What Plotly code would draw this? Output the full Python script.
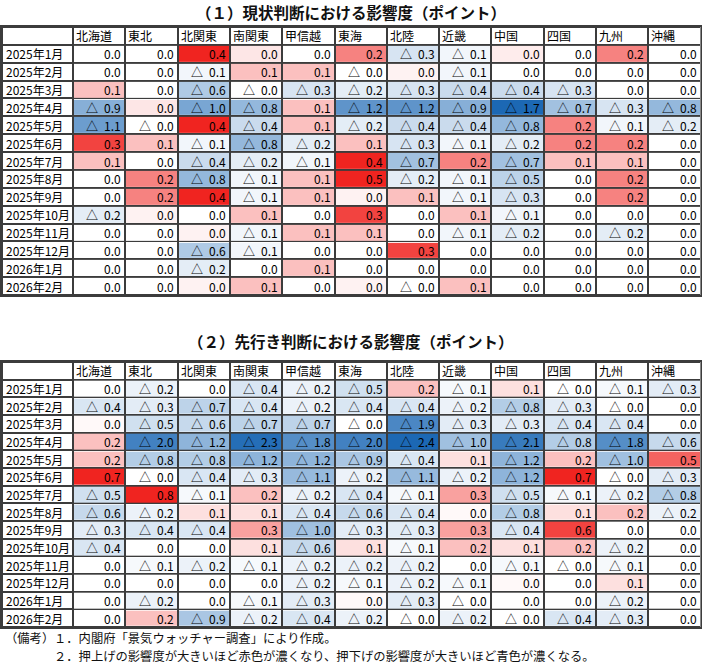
import math
import plotly.graph_objects as go

regions = ["北海道", "東北", "北関東", "南関東", "甲信越", "東海",
           "北陸", "近畿", "中国", "四国", "九州", "沖縄"]
months = ["2025年1月", "2025年2月", "2025年3月", "2025年4月", "2025年5月",
          "2025年6月", "2025年7月", "2025年8月", "2025年9月", "2025年10月",
          "2025年11月", "2025年12月", "2026年1月", "2026年2月"]

# (1) 現状判断  rows = months, cols = regions  (-0.0 shows as "△ 0.0")
current_impact = [
    [0.0, 0.0, 0.4, 0.04, 0.0, 0.2, -0.3, -0.1, 0.03, 0.0, 0.2, 0.0],
    [0.0, 0.0, -0.1, 0.1, 0.1, -0.0, 0.02, -0.1, 0.0, 0.0, 0.0, 0.0],
    [0.1, 0.0, -0.6, -0.0, -0.3, -0.2, -0.3, -0.4, -0.4, -0.3, 0.0, 0.0],
    [-0.9, 0.04, -1.0, -0.8, 0.1, -1.2, -1.2, -0.9, -1.7, -0.7, -0.3, -0.8],
    [-1.1, -0.0, 0.4, -0.4, 0.1, -0.2, -0.4, -0.4, -0.8, 0.2, -0.1, -0.2],
    [0.3, 0.1, -0.1, -0.8, -0.2, 0.1, -0.3, -0.1, -0.2, 0.2, 0.2, 0.0],
    [0.1, 0.0, -0.4, -0.2, -0.1, 0.4, -0.7, 0.2, -0.7, 0.1, 0.1, 0.0],
    [0.0, 0.2, -0.8, -0.1, 0.1, 0.5, -0.2, -0.1, -0.5, 0.0, 0.2, 0.0],
    [0.0, 0.2, 0.4, -0.1, 0.1, 0.02, 0.1, -0.1, -0.3, 0.0, 0.2, 0.0],
    [-0.2, 0.02, 0.0, 0.1, 0.0, 0.3, 0.0, 0.1, -0.1, 0.0, 0.0, 0.0],
    [0.0, 0.0, 0.02, -0.1, 0.1, 0.1, 0.0, -0.1, -0.2, 0.0, -0.2, 0.0],
    [0.0, 0.0, -0.6, -0.1, 0.0, 0.0, 0.3, 0.0, 0.0, 0.0, 0.0, 0.0],
    [0.0, 0.0, -0.2, 0.0, 0.1, 0.0, 0.0, 0.0, 0.0, 0.0, 0.0, 0.0],
    [0.0, 0.0, 0.02, 0.1, 0.0, 0.02, -0.0, 0.1, 0.0, 0.0, 0.0, 0.0],
]

# (2) 先行き判断
outlook_impact = [
    [0.0, -0.2, 0.0, -0.4, -0.2, -0.5, 0.2, -0.1, 0.1, -0.0, -0.1, -0.3],
    [-0.4, -0.3, -0.7, -0.4, -0.2, -0.4, -0.4, -0.2, -0.8, -0.3, -0.0, 0.0],
    [0.02, -0.5, -0.6, -0.7, -0.7, -0.0, -1.9, -0.3, -0.3, -0.4, -0.4, 0.0],
    [0.2, -2.0, -1.2, -2.3, -1.8, -2.0, -2.4, -1.0, -2.1, -0.8, -1.8, -0.6],
    [0.2, -0.8, -0.8, -1.2, -1.2, -0.9, -0.4, 0.1, -1.2, 0.2, -1.0, 0.5],
    [0.7, -0.0, -0.4, -0.3, -1.1, -0.2, -1.1, -0.2, -1.2, 0.7, -0.0, -0.3],
    [-0.5, 0.8, -0.1, 0.2, -0.2, -0.4, -0.1, 0.3, -0.5, -0.1, -0.2, -0.8],
    [-0.6, -0.2, 0.1, 0.1, -0.4, -0.6, -0.4, 0.02, -0.8, 0.1, 0.2, -0.2],
    [-0.3, -0.4, -0.4, 0.3, -1.0, -0.3, -0.3, 0.3, -0.4, 0.6, 0.0, 0.0],
    [-0.4, 0.0, 0.0, 0.1, -0.6, 0.1, -0.1, 0.2, 0.1, 0.2, -0.2, 0.0],
    [0.0, -0.1, -0.2, -0.1, -0.2, -0.2, -0.2, 0.0, -0.1, -0.0, -0.1, 0.0],
    [0.0, 0.0, 0.0, 0.0, -0.2, -0.1, -0.2, -0.1, 0.02, 0.0, 0.1, 0.0],
    [0.0, -0.2, 0.0, -0.1, -0.3, 0.02, -0.3, -0.0, 0.0, 0.0, -0.2, 0.0],
    [0.0, 0.2, -0.9, -0.2, -0.4, -0.2, -0.0, -0.2, -0.0, -0.4, -0.3, 0.0],
]

# colour saturates at these magnitudes (negative side, positive side)
current_range = (1.7, 0.35)
outlook_range = (2.4, 0.7)

BLUE, WHITE, RED = "rgb(28,104,180)", "rgb(255,255,255)", "rgb(240,36,32)"
FONT = "Noto Sans CJK JP"
W, H = 702, 665
LINE = "#3c3c3c"
LABEL_W, CELL_W = 71, 52.3
col_edges = [0, LABEL_W] + [LABEL_W + CELL_W * (k + 1) for k in range(len(regions))]
row_edges = list(range(len(months) + 2))


def fmt(v):
    if v < 0 or (v == 0 and math.copysign(1, v) < 0):
        return f"△\u2002{abs(v):.1f}"
    return f"{v:.1f}"


fig = go.Figure()


def add_table(data, rng, top_px, bottom_px, n):
    xa, ya = ("x", "y") if n == 1 else (f"x{n}", f"y{n}")
    neg, pos = rng
    # white frame (header row + label column), gaps show the dark grid
    fig.add_trace(go.Heatmap(
        z=[[0] * (len(regions) + 1) for _ in range(len(months) + 1)],
        x=col_edges, y=row_edges, xaxis=xa, yaxis=ya,
        colorscale=[[0, "white"], [1, "white"]], showscale=False,
        xgap=2, ygap=2, hoverinfo="skip"))
    fig.add_trace(go.Heatmap(
        z=data, x=col_edges[1:], y=row_edges[1:], xaxis=xa, yaxis=ya,
        zmin=-neg, zmax=pos,
        colorscale=[[0, BLUE], [neg / (neg + pos), WHITE], [1, RED]],
        showscale=False, xgap=2, ygap=2, hoverinfo="skip"))

    fnt = dict(family=FONT, size=12, color="#000")
    for j, name in enumerate(regions):
        fig.add_annotation(text=name, x=col_edges[j + 1], y=0.5, xref=xa, yref=ya,
                           xanchor="left", xshift=1, showarrow=False, font=fnt)
    for i, m in enumerate(months):
        fig.add_annotation(text=m, x=0, y=i + 1.5, xref=xa, yref=ya,
                           xanchor="left", xshift=2, showarrow=False, font=fnt)
        for j, v in enumerate(data[i]):
            fig.add_annotation(text=fmt(v), x=col_edges[j + 2], y=i + 1.5, xref=xa, yref=ya,
                               xanchor="right", xshift=-2, showarrow=False, font=fnt)

    ax = dict(range=[0, col_edges[-1]], domain=[2 / W, (2 + col_edges[-1]) / W],
              showgrid=False, zeroline=False, showticklabels=False, ticks="",
              showline=True, mirror=True, linecolor=LINE, linewidth=2, anchor=ya)
    ay = dict(range=[row_edges[-1], 0], domain=[1 - bottom_px / H, 1 - top_px / H],
              showgrid=False, zeroline=False, showticklabels=False, ticks="",
              showline=True, mirror=True, linecolor=LINE, linewidth=2, anchor=xa)
    key = "" if n == 1 else str(n)
    fig.update_layout(**{f"xaxis{key}": ax, f"yaxis{key}": ay})


add_table(current_impact, current_range, 27, 295, 1)
add_table(outlook_impact, outlook_range, 362, 627, 2)

titles = [("（１）現状判断における影響度（ポイント）", 12),
          ("（２）先行き判断における影響度（ポイント）", 341)]
for txt, ypx in titles:
    fig.add_annotation(text=f"<b>{txt}</b>", x=0.5, y=1 - ypx / H, xref="paper", yref="paper",
                       showarrow=False, xanchor="center", yanchor="middle",
                       font=dict(family=FONT, size=15.5, color="#111"))

notes = [("（備考）", 3, 638),
         ("１．内閣府「景気ウォッチャー調査」により作成。", 52, 638),
         ("２．押上げの影響度が大きいほど赤色が濃くなり、押下げの影響度が大きいほど青色が濃くなる。", 52, 656)]
for txt, xpx, ypx in notes:
    fig.add_annotation(text=txt, x=xpx / W, y=1 - ypx / H, xref="paper", yref="paper",
                       showarrow=False, xanchor="left", yanchor="middle",
                       font=dict(family=FONT, size=12.3, color="#111"))

fig.update_layout(width=W, height=H, margin=dict(l=0, r=0, t=0, b=0),
                  paper_bgcolor="white", plot_bgcolor=LINE)
# page body has an 8px default margin; drop it so the figure fills the window
fig.write_html("out.html", config={"displayModeBar": False},
               post_script="document.body.style.margin='0';")
